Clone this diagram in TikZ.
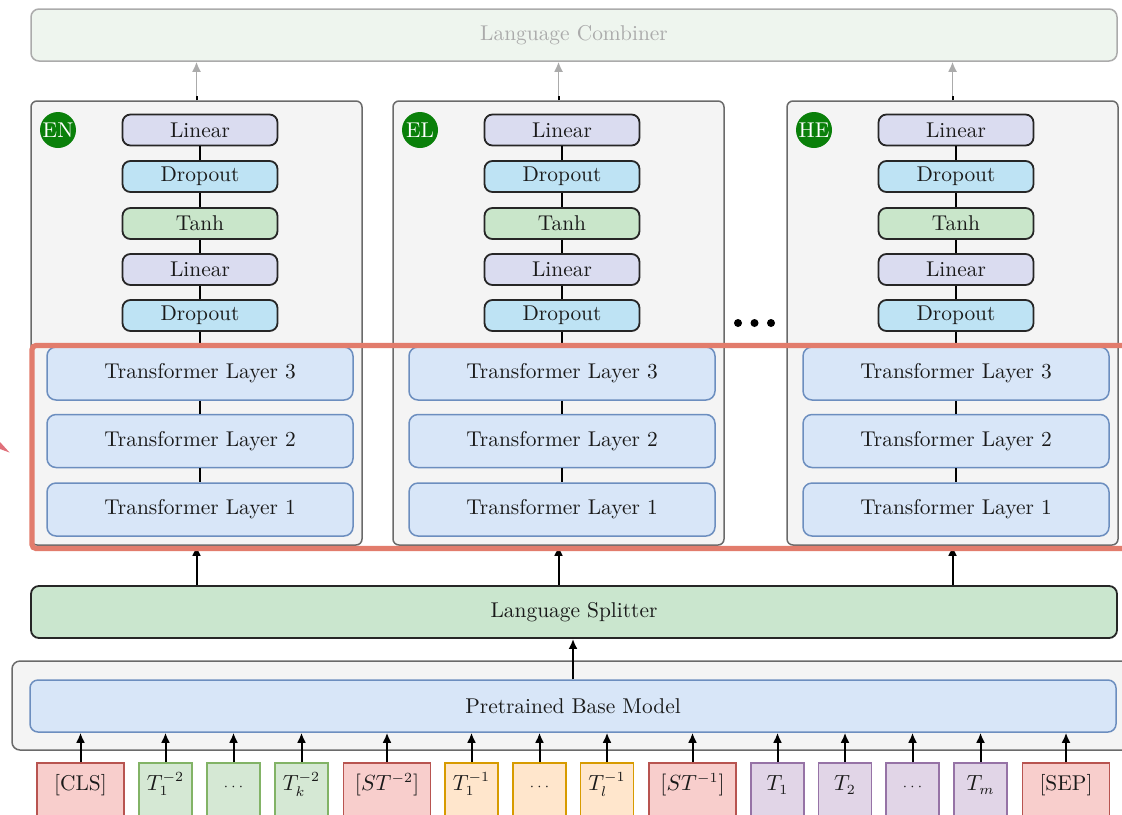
\documentclass[tikz,border=0pt]{standalone}
\usetikzlibrary{arrows.meta}

\definecolor{txt}{HTML}{1A1A1A}
\definecolor{boxgray}{HTML}{6A6A6A}
\definecolor{boxfill}{HTML}{F4F4F4}
\definecolor{combfill}{HTML}{EEF5EE}
\definecolor{combline}{HTML}{ABABAB}
\definecolor{linfill}{HTML}{DADCF0}
\definecolor{dropfill}{HTML}{BEE3F4}
\definecolor{tanhfill}{HTML}{C9E6CA}
\definecolor{tfill}{HTML}{D8E6F8}
\definecolor{tblue}{HTML}{6C8EBF}
\definecolor{splitfill}{HTML}{CAE6CE}
\definecolor{hilite}{HTML}{E27C6C}
\definecolor{pointer}{HTML}{E0707A}
\definecolor{badgegreen}{HTML}{0A800A}
\definecolor{redfill}{HTML}{F8CECC}
\definecolor{redline}{HTML}{B85450}
\definecolor{greenfill}{HTML}{D5E8D4}
\definecolor{greenline}{HTML}{82B366}
\definecolor{orangefill}{HTML}{FFE6CC}
\definecolor{orangeline}{HTML}{D79B00}
\definecolor{purplefill}{HTML}{E1D5E7}
\definecolor{purpleline}{HTML}{9673A6}

\newcommand{\smalldots}{{\fontsize{7.5}{8}\selectfont$\cdots$}}

\begin{document}
\begin{tikzpicture}[x=0.5pt,y=-0.5pt,
  font=\fontsize{10.7}{13}\selectfont, text=txt,
  colbox/.style={draw=boxgray, fill=boxfill, line width=0.75pt, rounded corners=3pt,
    minimum width=165.5pt, minimum height=222pt, inner sep=0pt},
  headbox/.style={draw=black!85, line width=0.9pt, rounded corners=4pt,
    minimum width=77.5pt, minimum height=15.5pt, inner sep=0pt},
  linbox/.style={headbox, fill=linfill},
  dropbox/.style={headbox, fill=dropfill},
  tanhbox/.style={headbox, fill=tanhfill},
  tlayer/.style={draw=tblue, fill=tfill, line width=0.75pt, rounded corners=4.5pt,
    minimum width=153pt, minimum height=26.5pt, inner sep=0pt},
  widebox/.style={rounded corners=4pt, minimum width=543pt, minimum height=26pt, inner sep=0pt},
  badge/.style={circle, fill=badgegreen, text=white, minimum size=18pt, inner sep=0pt},
  token/.style={anchor=north, inner xsep=0pt, inner ysep=4pt, text height=10pt,
    text depth=30pt, line width=0.75pt},
  toks/.style={token, minimum width=26.5pt},
  tokl/.style={token, minimum width=43.5pt},
  tred/.style={fill=redfill, draw=redline},
  tgreen/.style={fill=greenfill, draw=greenline},
  torange/.style={fill=orangefill, draw=orangeline},
  tpurple/.style={fill=purplefill, draw=purpleline},
  conn/.style={line width=1pt, draw=black},
  arr/.style={conn, -{Latex[length=5pt,width=4.5pt]}},
  garr/.style={line width=0.9pt, draw=combline, -{Latex[length=5pt,width=4.5pt]}}
]
\clip (0,0) rectangle (1122,814);
\fill[white] (0,0) rectangle (1122,814);

% combiner on top
\node[widebox, draw=combline, fill=combfill, line width=0.75pt, text=combline]
  (combiner) at (574,35) {Language Combiner};

% per-language heads with their transformer layers
\foreach \i/\cx/\lang in {1/196.5/EN, 2/558.5/EL, 3/952.5/HE} {
  \node[colbox] (col\i) at (\cx,323) {};
  \node[badge] (badge\i) at (\cx-138.5,130) {\lang};
  \node[linbox]  (linA\i)  at (\cx+3.5,130)   {Linear};
  \node[dropbox] (dropA\i) at (\cx+3.5,176.5) {Dropout};
  \node[tanhbox] (tanh\i)  at (\cx+3.5,223.5) {Tanh};
  \node[linbox]  (linB\i)  at (\cx+3.5,269.5) {Linear};
  \node[dropbox] (dropB\i) at (\cx+3.5,315.5) {Dropout};
  \node[tlayer] (tlC\i) at (\cx+3.5,373.5) {Transformer Layer 3};
  \node[tlayer] (tlB\i) at (\cx+3.5,441)   {Transformer Layer 2};
  \node[tlayer] (tlA\i) at (\cx+3.5,509.5) {Transformer Layer 1};
  \draw[conn] (linA\i) -- (dropA\i);
  \draw[conn] (dropA\i) -- (tanh\i);
  \draw[conn] (tanh\i) -- (linB\i);
  \draw[conn] (linB\i) -- (dropB\i);
  \draw[conn] (dropB\i) -- (tlC\i);
  \draw[conn] (tlC\i) -- (tlB\i);
  \draw[conn] (tlB\i) -- (tlA\i);
  \draw[conn] (col\i.north) -- ++(0,-4) coordinate (stub\i);
  \draw[garr] (stub\i) -- (stub\i |- combiner.south);
}

% ellipsis between the second and third language
\foreach \dx in {738,754.5,771} \fill (\dx,323) circle[radius=2pt];

% splitter and base model
\node[widebox, draw=black!85, fill=splitfill, line width=0.9pt] (splitter) at (574,612) {Language Splitter};
\draw[draw=boxgray, fill=boxfill, line width=0.75pt, rounded corners=4pt] (12,661) rectangle (1150,750);
\node[widebox, draw=tblue, fill=tfill, line width=0.75pt] (base) at (573,706) {Pretrained Base Model};

\foreach \i in {1,2,3} \draw[arr] (col\i.south |- splitter.north) -- (col\i.south);
\draw[arr] (base.north) -- (base.north |- splitter.south);

% highlight round the transformer layers
\draw[hilite, line width=2.6pt, rounded corners=2pt] (32,345.5) rectangle (1160,548.5);
\fill[pointer] (0,442) -- (9.5,452.5) -- (0,449) -- cycle;

% input tokens
\node[tokl, tred]    (cls)  at (80.5,762)  {[CLS]};
\node[toks, tgreen]  (ta1)  at (165.5,762) {$T_1^{-2}$};
\node[toks, tgreen]  (ta2)  at (233.5,762) {\smalldots};
\node[toks, tgreen]  (ta3)  at (301.5,762) {$T_k^{-2}$};
\node[tokl, tred]    (sta)  at (387,762)   {$[ST^{-2}]$};
\node[toks, torange] (tb1)  at (471.5,762) {$T_1^{-1}$};
\node[toks, torange] (tb2)  at (539.5,762) {\smalldots};
\node[toks, torange] (tb3)  at (607,762)   {$T_l^{-1}$};
\node[tokl, tred]    (stb)  at (692.5,762) {$[ST^{-1}]$};
\node[toks, tpurple] (tc1)  at (777.5,762) {$T_1$};
\node[toks, tpurple] (tc2)  at (845,762)   {$T_2$};
\node[toks, tpurple] (tc3)  at (912.5,762) {\smalldots};
\node[toks, tpurple] (tc4)  at (980.5,762) {$T_m$};
\node[tokl, tred]    (sep)  at (1066,762)  {[SEP]};

\foreach \t in {cls,ta1,ta2,ta3,sta,tb1,tb2,tb3,stb,tc1,tc2,tc3,tc4,sep}
  \draw[arr] (\t.north) -- (\t.north |- base.south);
\end{tikzpicture}
\end{document}
